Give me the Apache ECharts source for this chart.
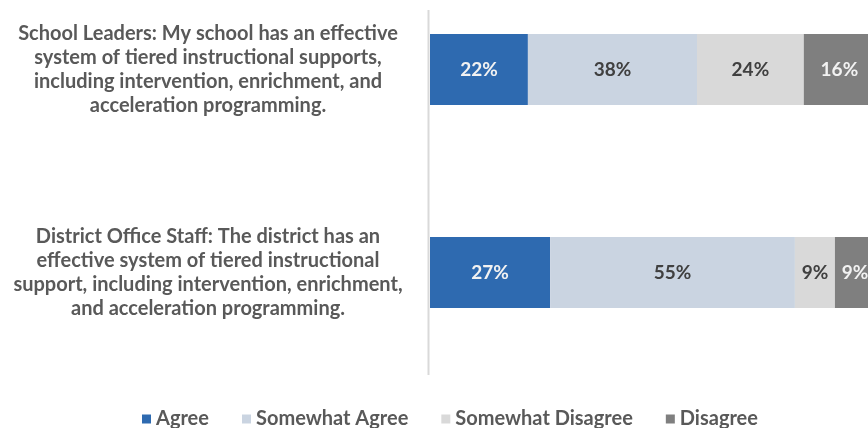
<!DOCTYPE html>
<html>
<head>
<meta charset="utf-8">
<script src="https://cdn.jsdelivr.net/npm/echarts@6/dist/echarts.min.js"></script>
<style>
  html, body { margin: 0; padding: 0; background: #ffffff; overflow: hidden; width: 868px; height: 428px; position: relative; }
  /* The canvas runs a little past the page so the plot can bleed off the top and right edges */
  #chart { position: absolute; left: 0; top: -40px; width: 875px; height: 468px; }
</style>
</head>
<body>
<div id="chart"></div>
<script>
// Survey statements (one bar each)
const categories = [
  'School Leaders: My school has an effective\nsystem of tiered instructional supports,\nincluding intervention, enrichment, and\nacceleration programming.',
  'District Office Staff: The district has an\neffective system of tiered instructional\nsupport, including intervention, enrichment,\nand acceleration programming.'
];

// Response shares, in percent
const agree = [22, 27];
const somewhatAgree = [38, 55];
const somewhatDisagree = [24, 9];
const disagree = [16, 9];

const seriesNames = ['Agree', 'Somewhat Agree', 'Somewhat Disagree', 'Disagree'];

const FONT = 'Lato, "DejaVu Sans", sans-serif';
const TEXT_GREY = '#595959';

function stackSeries(name, values, color, labelColor) {
  return {
    name: name,
    type: 'bar',
    stack: 'total',
    barWidth: '35%',
    data: values,
    itemStyle: { color: color },
    label: {
      show: true,
      position: 'inside',
      formatter: '{c}%',
      color: labelColor,
      fontFamily: FONT,
      fontWeight: 'bold',
      fontSize: 19
    },
    emphasis: { disabled: true }
  };
}

const chart = echarts.init(document.getElementById('chart'), null, { renderer: 'canvas' });

chart.setOption({
  animation: false,
  backgroundColor: '#ffffff',
  grid: { left: 430, right: 0, top: 8, bottom: 54, containLabel: false },
  xAxis: {
    type: 'value',
    min: 0,
    max: 100,
    show: false
  },
  yAxis: {
    type: 'category',
    inverse: true,
    data: categories,
    axisLine: { show: false },
    axisTick: { show: false },
    splitLine: { show: false },
    axisLabel: {
      align: 'center',
      margin: 222,
      color: TEXT_GREY,
      fontFamily: FONT,
      fontWeight: 'bold',
      fontSize: 20,
      lineHeight: 24
    }
  },
  legend: {
    data: seriesNames,
    left: 137,
    top: 444,
    itemWidth: 9,
    itemHeight: 9,
    itemGap: 33,
    icon: 'rect',
    textStyle: {
      color: TEXT_GREY,
      fontFamily: FONT,
      fontWeight: 'bold',
      fontSize: 20
    }
  },
  graphic: [{
    type: 'line',
    shape: { x1: 428.5, y1: 50, x2: 428.5, y2: 415 },
    style: { stroke: '#d9d9d9', lineWidth: 2 },
    silent: true
  }],
  series: [
    stackSeries(seriesNames[0], agree, '#2e6ab0', '#f2f2f2'),
    stackSeries(seriesNames[1], somewhatAgree, '#cad4e1', '#404040'),
    stackSeries(seriesNames[2], somewhatDisagree, '#d9d9d9', '#404040'),
    stackSeries(seriesNames[3], disagree, '#7f7f7f', '#f2f2f2')
  ]
});
</script>
</body>
</html>
